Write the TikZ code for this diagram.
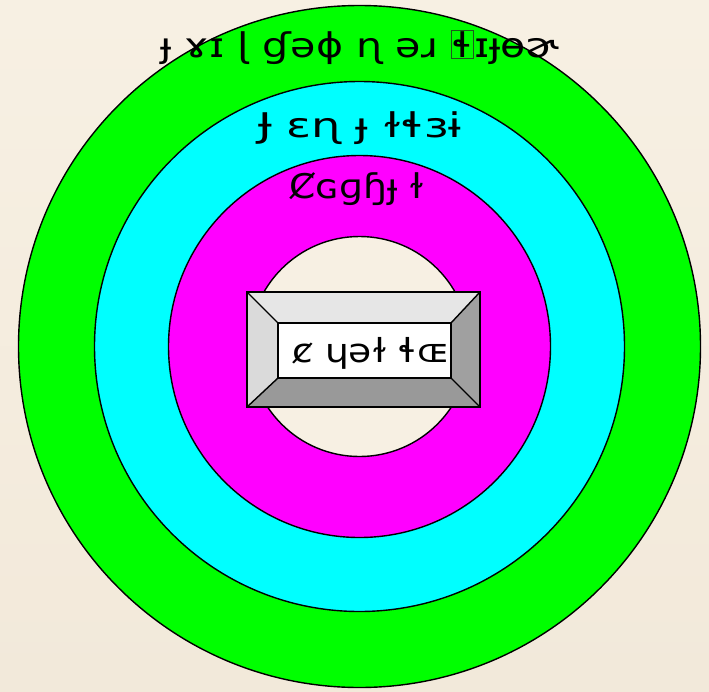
\documentclass[tikz,border=0pt]{standalone}
\usepackage{fontspec}
\usepackage{graphicx}
\setmainfont{DejaVu Sans}
\definecolor{bgA}{HTML}{F7F0E3}
\definecolor{bgB}{HTML}{F2E9DA}
\definecolor{ringG}{HTML}{00FF00}
\definecolor{ringC}{HTML}{00FFFF}
\definecolor{ringM}{HTML}{FF00FF}
\definecolor{bevT}{HTML}{E6E6E6}
\definecolor{bevL}{HTML}{DADADA}
\definecolor{bevR}{HTML}{A0A0A0}
\definecolor{bevB}{HTML}{999999}
\definecolor{boxline}{HTML}{1E5A1E}
\tikzset{
  ring/.style={draw=black, line width=1.4pt},
  lbl/.style={anchor=base, inner sep=0pt, font=\fontsize{34}{38}\selectfont, text=black},
  lblc/.style={lbl, font=\fontsize{33}{36}\selectfont},
  bev/.style={draw=black, line width=1.4pt, line join=miter},
}
\begin{document}
\begin{tikzpicture}[x=1pt,y=1pt]
\useasboundingbox (0,0) rectangle (709,-691);
\shade[top color=bgA, bottom color=bgB] (0,0) rectangle (709,-691);
\coordinate (c) at (359.5,-346.5);
\fill[ringG] (c) circle[radius=341pt];
\draw[ring] (c) circle[radius=341pt];
\fill[ringC] (c) circle[radius=265pt];
\draw[ring] (c) circle[radius=265pt];
\fill[ringM] (c) circle[radius=191pt];
\draw[ring] (c) circle[radius=191pt];
\fill[bgA] (c) circle[radius=110pt];
\draw[ring] (c) circle[radius=110pt];
% bevel box
\coordinate (o1) at (247,-292);
\coordinate (o2) at (480,-292);
\coordinate (o3) at (480,-407);
\coordinate (o4) at (247,-407);
\coordinate (i1) at (278,-323);
\coordinate (i2) at (451,-323);
\coordinate (i3) at (451,-378);
\coordinate (i4) at (278,-378);
\fill[bevT] (o1) -- (o2) -- (i2) -- (i1) -- cycle;
\fill[bevL] (o1) -- (i1) -- (i4) -- (o4) -- cycle;
\fill[bevR] (o2) -- (o3) -- (i3) -- (i2) -- cycle;
\fill[bevB] (o4) -- (i4) -- (i3) -- (o3) -- cycle;
\fill[white] (i1) rectangle (i3);
\draw[bev] (o1) rectangle (o3);
\draw[bev] (i1) rectangle (i3);
\draw[bev] (o1) -- (i1) (o2) -- (i2) (o3) -- (i3) (o4) -- (i4);
% labels
\node[lbl] (tG) at (360,-57) {\scalebox{1.21}[1]{ɟ ɤɪ ɭ ɠəɸ ɳ əɹ {\setlength\fboxrule{0.6pt}\setlength\fboxsep{0.5pt}\color{boxline}\fbox{\color{black}ɬ}}ɪɟɵɚ}};
\node[lbl] (tC) at (360,-137) {\scalebox{1.36}[1]{Ɉ ɛɳ ɟ ɫɬɜɨ}};
\node[lbl] (tM) at (357,-198) {\scalebox{1.11}[1]{Ȼɢɡɧɟ ɫ}};
\node[lblc] (tB) at (371,-362) {\scalebox{1.14}[1]{ȼ ɥəɫ ɬɶ}};
\end{tikzpicture}
\end{document}
